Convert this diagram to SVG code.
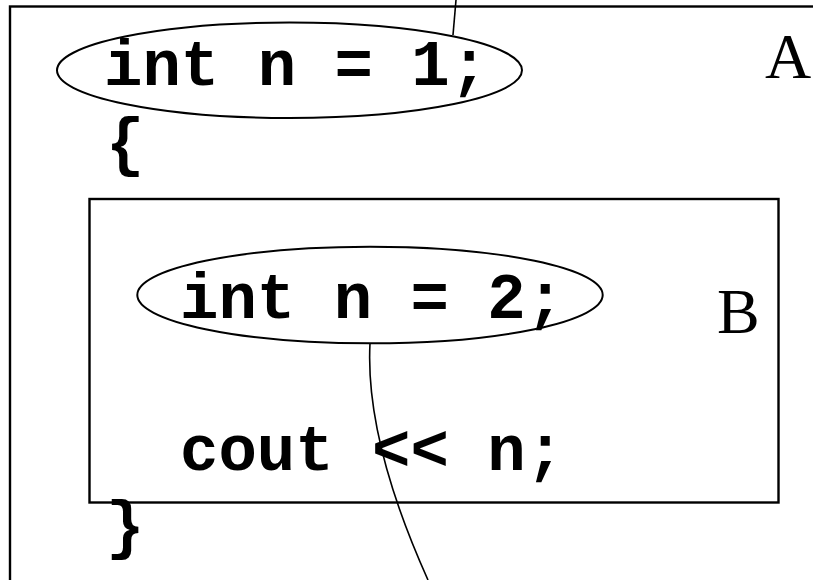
<svg xmlns="http://www.w3.org/2000/svg" width="813" height="580" viewBox="0 0 813 580">
<style>
.code{font-family:"Liberation Mono","Courier New",monospace;font-weight:bold;font-size:64px;fill:#000}
.lbl{font-family:"Liberation Serif","Times New Roman",serif;font-size:64px;fill:#000}
.box{fill:none;stroke:#000;stroke-width:2.4}
.ell{fill:none;stroke:#000;stroke-width:2}
.con{fill:none;stroke:#000;stroke-width:1.6}
</style>
<rect width="813" height="580" fill="#fff"/>
<g id="scopeA">
<rect class="box" x="10" y="6.5" width="830" height="600"/>
<text class="lbl" x="765" y="78">A</text>
<text class="code" x="106" y="164">{</text>
<text class="code" x="106" y="547">}</text>
</g>
<g id="declA">
<ellipse class="ell" cx="289.5" cy="70.3" rx="232.5" ry="47.7"/>
<text class="code" x="104" y="85">int n = 1;</text>
</g>
<g id="scopeB">
<rect class="box" x="89.5" y="199" width="689" height="303.5"/>
<text class="lbl" x="717" y="333">B</text>
<text class="code" x="180" y="470">cout &lt;&lt; n;</text>
</g>
<g id="declB">
<ellipse class="ell" cx="370" cy="295" rx="232.7" ry="48.3"/>
<text class="code" x="180" y="317.7">int n = 2;</text>
</g>
<g id="connectors">
<path class="con" d="M456,0 L453,35"/>
<path class="con" d="M370,343.3 Q365,440 428,580"/>
</g>
</svg>
